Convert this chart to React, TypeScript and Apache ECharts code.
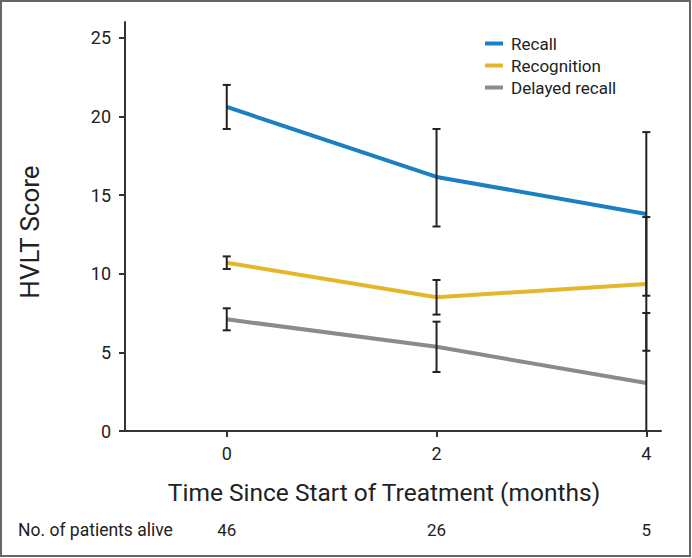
import React, { useEffect, useRef } from "react";
import * as echarts from "echarts";

const months = [0, 2, 4];
const patientsAlive = [46, 26, 5];
const yTicks = [0, 5, 10, 15, 20, 25];

const recallMean = [20.6, 16.15, 13.8];
const recallLow = [19.2, 13.0, 8.6];
const recallHigh = [22.0, 19.2, 19.0];

const recogMean = [10.7, 8.5, 9.35];
const recogLow = [10.3, 7.4, 5.1];
const recogHigh = [11.1, 9.6, 13.6];

const delayedMean = [7.1, 5.35, 3.05];
const delayedLow = [6.4, 3.75, -1.4];
const delayedHigh = [7.8, 6.95, 7.5];

const seriesNames = ["Recall", "Recognition", "Delayed recall"];
const colors = ["#1b7fc3", "#e5b62b", "#8b8b8b"];

const FONT = "Roboto, 'Liberation Sans', sans-serif";

export default function App() {
  const ref = useRef<HTMLDivElement>(null);
  useEffect(() => {
    if (!ref.current) return;
    const chart = echarts.init(ref.current, undefined, { renderer: "svg" });
    const yMin = 0;
    const yMax = 26;

    const errData = (lo: number[], hi: number[]) =>
      months.map((m, i) => [m, lo[i], hi[i]]);

    const renderErr = (params: any, api: any) => {
      const x = api.value(0);
      let lo = api.value(1);
      const hi = api.value(2);
      let loCap = true;
      if (lo < yMin) {
        lo = yMin;
        loCap = false;
      }
      const pHi = api.coord([x, hi]);
      const pLo = api.coord([x, lo]);
      const hw = 4;
      const style = { stroke: "#222", lineWidth: 2 };
      const children: any[] = [
        { type: "line", shape: { x1: pHi[0], y1: pHi[1], x2: pLo[0], y2: pLo[1] }, style },
        { type: "line", shape: { x1: pHi[0] - hw, y1: pHi[1], x2: pHi[0] + hw, y2: pHi[1] }, style },
      ];
      if (loCap) {
        children.push({ type: "line", shape: { x1: pLo[0] - hw, y1: pLo[1], x2: pLo[0] + hw, y2: pLo[1] }, style });
      }
      return { type: "group", children };
    };

    const means = [recallMean, recogMean, delayedMean];
    const lows = [recallLow, recogLow, delayedLow];
    const highs = [recallHigh, recogHigh, delayedHigh];

    const lineSeries = seriesNames.map((name, k) => ({
      name,
      type: "line",
      data: months.map((m, i) => [m, means[k][i]]),
      symbol: "none",
      lineStyle: { width: 4, color: colors[k] },
      itemStyle: { color: colors[k] },
      z: 2,
    }));
    const errSeries = seriesNames.map((name, k) => ({
      name: name + " err",
      type: "custom",
      renderItem: renderErr,
      data: errData(lows[k], highs[k]),
      z: 5,
      silent: true,
    }));

    chart.setOption({
      animation: false,
      backgroundColor: "#fff",
      textStyle: { fontFamily: FONT },
      grid: { left: 125, right: 31, top: 22, bottom: 127 },
      legend: {
        data: seriesNames,
        orient: "vertical",
        left: 480,
        top: 30,
        icon: "rect",
        itemWidth: 18,
        itemHeight: 4,
        itemGap: 5,
        textStyle: { fontSize: 17, lineHeight: 17, color: "#222", fontFamily: FONT, padding: [0, 0, 0, 3] },
      },
      xAxis: [
        {
          type: "value",
          min: -0.97,
          max: 4.14,
          splitLine: { show: false },
          axisLine: { onZero: false, lineStyle: { color: "#333", width: 2 } },
          axisTick: { customValues: months, length: 6, lineStyle: { color: "#333", width: 2 } },
          axisLabel: { customValues: months, fontSize: 18, color: "#222", margin: 13, fontFamily: FONT },
        },
        {
          type: "value",
          position: "bottom",
          min: -0.97,
          max: 4.14,
          splitLine: { show: false },
          axisLine: { show: false, onZero: false },
          axisTick: { show: false },
          axisLabel: {
            customValues: months,
            fontSize: 17,
            color: "#222",
            margin: 90,
            fontFamily: FONT,
            formatter: (v: number) => String(patientsAlive[months.indexOf(v)] ?? ""),
          },
        },
      ],
      yAxis: {
        type: "value",
        min: yMin,
        max: yMax,
        splitLine: { show: false },
        axisLine: { show: true, onZero: false, lineStyle: { color: "#333", width: 2 } },
        axisTick: { show: true, customValues: yTicks, length: 6, lineStyle: { color: "#333", width: 2 } },
        axisLabel: { customValues: yTicks, fontSize: 18, color: "#222", margin: 14, fontFamily: FONT },
      },
      graphic: [
        {
          type: "rect",
          shape: { x: 1, y: 1, width: 689, height: 555 },
          style: { fill: "none", stroke: "#666", lineWidth: 2 },
          silent: true,
        },
        {
          type: "text",
          x: 384,
          y: 492,
          style: {
            text: "Time Since Start of Treatment (months)",
            fontSize: 24.5,
            fontFamily: FONT,
            fill: "#222",
            align: "center",
            verticalAlign: "middle",
          },
        },
        {
          type: "text",
          x: 30,
          y: 232,
          rotation: Math.PI / 2,
          style: {
            text: "HVLT Score",
            fontSize: 26,
            fontFamily: FONT,
            fill: "#222",
            align: "center",
            verticalAlign: "middle",
          },
        },
        {
          type: "text",
          x: 18,
          y: 530,
          style: {
            text: "No. of patients alive",
            fontSize: 17.5,
            fontFamily: FONT,
            fill: "#222",
            align: "left",
            verticalAlign: "middle",
          },
        },
      ],
      series: [...lineSeries, ...errSeries],
    });
    return () => chart.dispose();
  }, []);
  return (
    <div
      ref={ref}
      style={{ position: "fixed", left: 0, top: 0, width: 692, height: 558 }}
    />
  );
}
